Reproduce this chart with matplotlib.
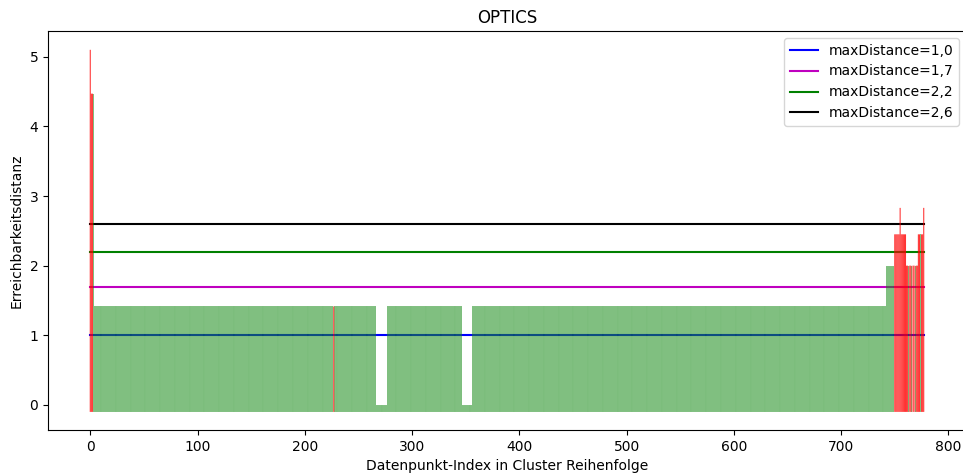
"""OPTICS reachability plot"""
import numpy as np
import matplotlib
matplotlib.use("Agg")
import matplotlib.pyplot as plt

# runs of points in cluster order: length, reachability, noise flag
run_length = [1, 2, 1, 223, 1, 39, 10, 70, 9, 386, 8, 5, 1, 5, 2, 1, 2, 1, 2, 1, 2, 2, 1, 2, 1]
run_reach = [5.1, 4.47, 4.47, 1.414, 1.414, 1.414, 0.0, 1.414, 0.0, 1.414, 2.0, 2.45, 2.83, 2.45,
             2.0, 2.0, 2.0, 2.0, 2.0, 2.0, 2.0, 2.45, 2.45, 2.45, 2.83]
run_noise = [1, 1, 0, 0, 1, 0, 0, 0, 0, 0, 0, 1, 1, 1, 1, 0, 1, 0, 1, 0, 1, 1, 0, 1, 1]

max_dist = [1.0, 1.7, 2.2, 2.6]
max_dist_colors = ["b", "m", "g", "k"]
max_dist_labels = ["maxDistance=1,0", "maxDistance=1,7", "maxDistance=2,2", "maxDistance=2,6"]

reach = np.repeat(run_reach, run_length)
noise = np.repeat(run_noise, run_length).astype(bool)
space = np.arange(len(reach))

fig = plt.figure(figsize=(9.63, 4.75), dpi=100)
ax = fig.add_axes([48 / 963, 45 / 475, 918 / 963, 399 / 475])

for d, c, lab in zip(max_dist, max_dist_colors, max_dist_labels):
    ax.plot([0, len(reach) - 1], [d, d], color=c, label=lab, zorder=1)

ax.bar(space[~noise], reach[~noise] + 0.1, bottom=-0.1, width=1.0, color="g", alpha=0.52,
       edgecolor="white", linewidth=0.05, zorder=2)
ax.bar(space[noise], reach[noise] + 0.1, bottom=-0.1, width=1.0, color="r", alpha=0.8,
       snap=False, zorder=3)

ax.set_ylim(-0.36, 5.37)
ax.set_title("OPTICS")
ax.set_xlabel("Datenpunkt-Index in Cluster Reihenfolge")
ax.set_ylabel("Erreichbarkeitsdistanz")
ax.legend(loc="upper right")

fig.savefig("out.png", dpi=100)
